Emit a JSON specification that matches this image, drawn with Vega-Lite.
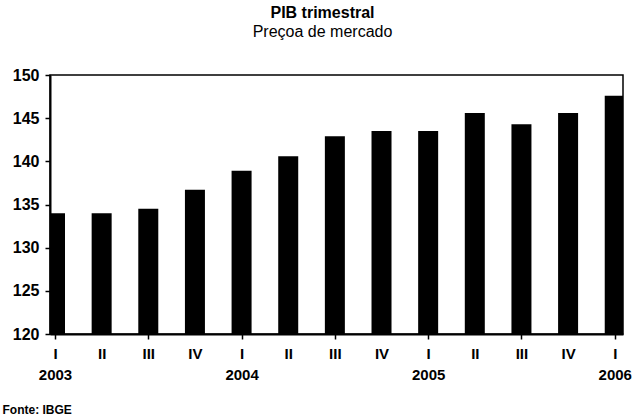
{
  "$schema": "https://vega.github.io/schema/vega-lite/v6.json",
  "width": 573,
  "height": 259,
  "autosize": {"type": "none"},
  "padding": {"left": 50, "top": 75, "right": 20, "bottom": 86},
  "background": "white",
  "title": {
    "text": "PIB trimestral",
    "subtitle": "Preçoa de mercado",
    "anchor": "middle",
    "dx": -14,
    "font": "Liberation Sans",
    "fontSize": 16,
    "fontWeight": "bold",
    "color": "black",
    "subtitleFont": "Liberation Sans",
    "subtitleFontSize": 16,
    "subtitleColor": "black",
    "subtitlePadding": 3,
    "offset": 27
  },
  "config": {
    "view": {"stroke": "black", "strokeWidth": 1.5},
    "axis": {
      "labelFont": "Liberation Sans",
      "labelFontSize": 16,
      "labelFontWeight": "bold",
      "labelColor": "black",
      "domainColor": "black",
      "domainWidth": 2,
      "tickColor": "black",
      "tickWidth": 1.5,
      "tickSize": 5,
      "grid": false,
      "titleFont": "Liberation Sans",
      "titleColor": "black"
    }
  },
  "data": {
    "values": [
      {"i": 0, "trimestre": "I", "ano": 2003, "valor": 134.0},
      {"i": 1, "trimestre": "II", "ano": 2003, "valor": 134.0},
      {"i": 2, "trimestre": "III", "ano": 2003, "valor": 134.5},
      {"i": 3, "trimestre": "IV", "ano": 2003, "valor": 136.7},
      {"i": 4, "trimestre": "I", "ano": 2004, "valor": 138.9},
      {"i": 5, "trimestre": "II", "ano": 2004, "valor": 140.6},
      {"i": 6, "trimestre": "III", "ano": 2004, "valor": 142.9},
      {"i": 7, "trimestre": "IV", "ano": 2004, "valor": 143.5},
      {"i": 8, "trimestre": "I", "ano": 2005, "valor": 143.5},
      {"i": 9, "trimestre": "II", "ano": 2005, "valor": 145.6},
      {"i": 10, "trimestre": "III", "ano": 2005, "valor": 144.3},
      {"i": 11, "trimestre": "IV", "ano": 2005, "valor": 145.6},
      {"i": 12, "trimestre": "I", "ano": 2006, "valor": 147.6}
    ]
  },
  "mark": {"type": "bar", "color": "black", "size": 20, "clip": true},
  "encoding": {
    "x": {
      "field": "i",
      "type": "quantitative",
      "scale": {"domain": [0, 12.07], "nice": false, "zero": false},
      "axis": {
        "values": [0, 1, 2, 3, 4, 5, 6, 7, 8, 9, 10, 11, 12],
        "labelExpr": "datum.value % 4 === 0 ? [['I','II','III','IV'][datum.value % 4], '' + (2003 + datum.value / 4)] : ['I','II','III','IV'][datum.value % 4]",
        "labelFontSize": 15,
        "labelFlush": false,
        "labelOverlap": false,
        "labelBound": false,
        "labelPadding": 7,
        "labelLineHeight": 21,
        "labelBaseline": "top",
        "tickOpacity": {"condition": {"test": "datum.value % 2 === 0", "value": 1}, "value": 0},
        "title": "Fonte: IBGE",
        "titleFontSize": 12,
        "titleFontWeight": "bold",
        "titleAnchor": "start",
        "titleAlign": "left",
        "titleBaseline": "alphabetic",
        "titleX": -48,
        "titleY": 79
      }
    },
    "y": {
      "field": "valor",
      "type": "quantitative",
      "scale": {"domain": [120, 150], "nice": false, "zero": false},
      "axis": {
        "values": [120, 125, 130, 135, 140, 145, 150],
        "labelPadding": 6,
        "title": null
      }
    }
  }
}
